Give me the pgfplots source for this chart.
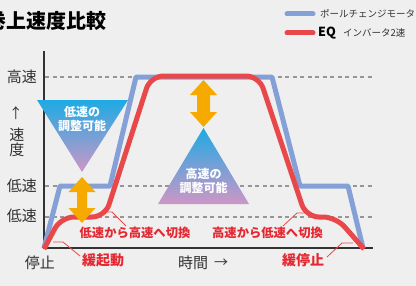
\documentclass[border=0pt]{standalone}
\usepackage{pgfplots}
\pgfplotsset{compat=1.18}
\usepackage{fontspec}
\setmainfont{Noto Sans CJK JP}
\definecolor{bg}{RGB}{239,239,239}
\definecolor{lblue}{RGB}{133,160,214}
\definecolor{lred}{RGB}{233,72,75}
\definecolor{tred}{RGB}{228,40,50}
\definecolor{dgray}{RGB}{50,50,50}
\definecolor{dashc}{RGB}{150,150,150}
\definecolor{orng}{RGB}{246,170,0}
\definecolor{cyanA}{RGB}{30,170,228}
\definecolor{pinkA}{RGB}{206,150,198}
\newcommand{\fs}[1]{\fontsize{#1bp}{#1bp}\selectfont}
\begin{document}
\begin{tikzpicture}
\begin{axis}[
  scale only axis, width=416bp, height=286bp,
  xmin=0, xmax=416, ymin=0, ymax=286, y dir=reverse,
  hide axis, clip=false, anchor=south west, at={(0,0)}]
\fill[bg] (axis cs:0,0) rectangle (axis cs:416,286);
\coordinate (BL) at (axis cs:0,286);
\coordinate (TR) at (axis cs:416,0);
% dashed guide lines
\draw[dashc, line width=1.2bp, dash pattern=on 4bp off 3.5bp] (axis cs:45,77) -- (axis cs:373,77);
\draw[dashc, line width=1.2bp, dash pattern=on 4bp off 3.5bp] (axis cs:45,186) -- (axis cs:373,186);
\draw[dashc, line width=1.2bp, dash pattern=on 4bp off 3.5bp] (axis cs:45,217) -- (axis cs:373,217);
% axes
\draw[dgray, line width=1.5bp] (axis cs:44,51) -- (axis cs:44,248) -- (axis cs:373,248);
% triangles
\shade[top color=cyanA, bottom color=pinkA] (axis cs:37,100) -- (axis cs:128,100) -- (axis cs:82,172) -- cycle;
\shade[top color=cyanA, bottom color=pinkA] (axis cs:203.5,128) -- (axis cs:249,204) -- (axis cs:158,204) -- cycle;
\node[text=white, font=\bfseries\fs{12}] at (axis cs:82,112) {低速の};
\node[text=white, font=\bfseries\fs{12}] at (axis cs:82,125.5) {調整可能};
\node[text=white, font=\bfseries\fs{12}] at (axis cs:203.5,174) {高速の};
\node[text=white, font=\bfseries\fs{12}] at (axis cs:203.5,187.5) {調整可能};
% curves
\addplot[lblue, line width=5bp, line join=round] coordinates {(44,248) (60,186) (110,186) (136,77) (272,77) (300,186) (348,186) (363,248)};
\addplot[lred, line width=5bp, rounded corners=13bp] coordinates {(44,249) (61,217) (105,217) (150.5,76) (259,76) (306,217) (336,217) (364,249)};
% orange arrows
\fill[orng] (axis cs:82,177) -- (axis cs:95.5,192) -- (axis cs:87,192) -- (axis cs:87,208) -- (axis cs:95.5,208) -- (axis cs:82,223) -- (axis cs:68.5,208) -- (axis cs:77,208) -- (axis cs:77,192) -- (axis cs:68.5,192) -- cycle;
\fill[orng] (axis cs:203.5,80) -- (axis cs:217,95) -- (axis cs:210,95) -- (axis cs:210,112) -- (axis cs:217,112) -- (axis cs:203.5,127) -- (axis cs:190,112) -- (axis cs:197,112) -- (axis cs:197,95) -- (axis cs:190,95) -- cycle;
% leader lines
\draw[lred, line width=0.8bp] (axis cs:105,212) -- (axis cs:112,212) -- (axis cs:126,226);
\draw[lred, line width=0.8bp] (axis cs:283,226) -- (axis cs:297,213) -- (axis cs:305,213);
\draw[lred, line width=0.8bp] (axis cs:53,242) -- (axis cs:63,242) -- (axis cs:80,256);
\draw[lred, line width=0.8bp] (axis cs:327,257) -- (axis cs:342,243) -- (axis cs:353,243);
% y labels
\node[text=dgray, font=\fs{15}] at (axis cs:22,77) {高速};
\node[text=dgray, font=\fs{15}] at (axis cs:22,186) {低速};
\node[text=dgray, font=\fs{15}] at (axis cs:22,216) {低速};
\node[text=dgray, font=\fs{14}] at (axis cs:16,113) {↑};
\node[text=dgray, font=\fs{15}] at (axis cs:17,135) {速};
\node[text=dgray, font=\fs{15}] at (axis cs:17,149.5) {度};
% x labels
\node[text=dgray, font=\fs{15}] at (axis cs:40,263) {停止};
\node[text=dgray, font=\fs{15}] at (axis cs:193,263) {時間};
\node[text=dgray, font=\fs{14}] at (axis cs:221,263) {→};
% red labels
\node[text=tred, font=\bfseries\fs{12.3}] at (axis cs:135,233) {低速から高速へ切換};
\node[text=tred, font=\bfseries\fs{12.3}] at (axis cs:267.5,233) {高速から低速へ切換};
\node[text=tred, font=\bfseries\fs{14}] at (axis cs:103,260) {緩起動};
\node[text=tred, font=\bfseries\fs{14}] at (axis cs:303,260) {緩停止};
% title
\node[anchor=west, inner sep=0pt, text=black, font=\bfseries\fs{20}] at (axis cs:-14,21) {巻上速度比較};
% legend
\draw[lblue, line width=5bp, line cap=round] (axis cs:287,14) -- (axis cs:313,14);
\draw[lred, line width=5bp, line cap=round] (axis cs:287,33) -- (axis cs:313,33);
\node[anchor=west, inner sep=0pt, text=dgray, font=\fs{9.5}] at (axis cs:320,14) {ポールチェンジモータ};
\node[anchor=west, inner sep=0pt, text=black, font=\bfseries\fs{12.5}] at (axis cs:318,33) {EQ};
\node[anchor=west, inner sep=0pt, text=dgray, font=\fs{9.5}] at (axis cs:343,33) {インバータ2速};
\end{axis}
\pgfresetboundingbox
\path[use as bounding box] (BL) rectangle (TR);
\end{tikzpicture}
\end{document}
